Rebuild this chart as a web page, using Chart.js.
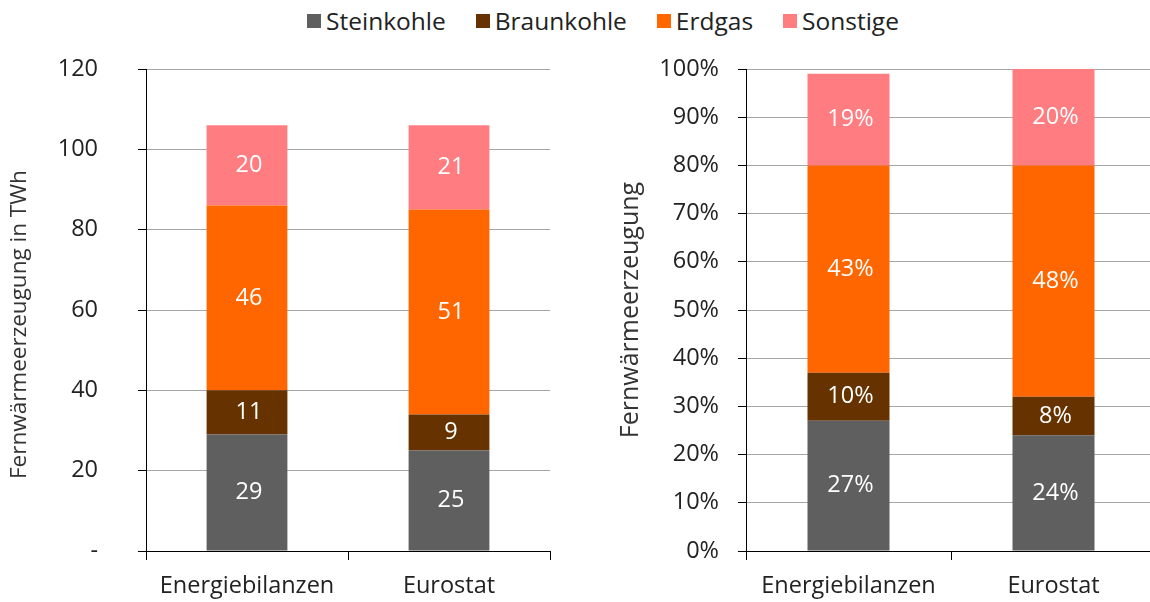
<!DOCTYPE html>
<html>
<head>
<meta charset="utf-8">
<script src="https://cdn.jsdelivr.net/npm/chart.js@4/dist/chart.umd.min.js"></script>
<style>
  html, body { margin: 0; padding: 0; background: #fff; overflow: hidden; }
  body { width: 1150px; height: 602px; position: relative; font-family: "Open Sans", sans-serif; }
  .panel { position: absolute; top: 0; }
  #legend { position: absolute; top: 4px; left: 0; width: 1206px; display: flex; justify-content: center; gap: 30px;
            font-size: 24.5px; color: #222; }
  #legend span.item { display: flex; align-items: center; }
  #legend span.box { width: 14px; height: 14px; margin-right: 5px; display: inline-block; }
</style>
</head>
<body>
<div id="legend"></div>
<div class="panel" style="left:0"><canvas id="twh" width="575" height="602"></canvas></div>
<div class="panel" style="left:600px"><canvas id="pct" width="575" height="602"></canvas></div>
<script>
const categories = ['Energiebilanzen', 'Eurostat'];
const seriesNames = ['Steinkohle', 'Braunkohle', 'Erdgas', 'Sonstige'];
const seriesColors = ['#5f5f5f', '#663300', '#ff6600', '#ff7c80'];

// absolute values, TWh
const twhSteinkohle = [29, 25];
const twhBraunkohle = [11, 9];
const twhErdgas = [46, 51];
const twhSonstige = [20, 21];

// shares, %
const pctSteinkohle = [27, 24];
const pctBraunkohle = [10, 8];
const pctErdgas = [43, 48];
const pctSonstige = [19, 20];

const twhTicks = [0, 20, 40, 60, 80, 100, 120];
const pctTicks = [0, 10, 20, 30, 40, 50, 60, 70, 80, 90, 100];

const FONT = '"Open Sans", sans-serif';
const TEXT_SIZE = 23.5;

// legend
const legendEl = document.getElementById('legend');
seriesNames.forEach((name, i) => {
    const item = document.createElement('span');
    item.className = 'item';
    item.innerHTML = '<span class="box" style="background:' + seriesColors[i] + '"></span>' + name;
    legendEl.appendChild(item);
});

// white numbers centred in each bar segment
const valueLabels = {
    id: 'valueLabels',
    afterDatasetsDraw(chart, args, opts) {
        const ctx = chart.ctx;
        ctx.save();
        ctx.fillStyle = '#fff';
        ctx.font = TEXT_SIZE + 'px ' + FONT;
        ctx.textAlign = 'center';
        ctx.textBaseline = 'middle';
        chart.data.datasets.forEach((ds, i) => {
            chart.getDatasetMeta(i).data.forEach((bar, j) => {
                const p = bar.getProps(['x', 'y', 'base'], true);
                ctx.fillText(opts.format(ds.data[j]), p.x + 2, (p.y + p.base) / 2);
            });
        });
        ctx.restore();
    }
};

function makeChart(canvasId, seriesData, cfg) {
    const datasets = seriesData.map((data, i) => ({
        label: seriesNames[i],
        data: data,
        backgroundColor: seriesColors[i],
        borderWidth: 0,
        barPercentage: 0.4,
        categoryPercentage: 1
    }));
    const ctx = document.getElementById(canvasId).getContext('2d');
    return new Chart(ctx, {
        type: 'bar',
        data: { labels: categories, datasets },
        plugins: [valueLabels],
        options: {
            responsive: false,
            animation: false,
            layout: { padding: { top: 69, right: cfg.padRight, left: 0, bottom: 0 } },
            plugins: {
                legend: { display: false },
                tooltip: { enabled: false },
                valueLabels: { format: cfg.format }
            },
            scales: {
                x: {
                    stacked: true,
                    border: { color: '#000', width: 1 },
                    grid: { display: true, drawOnChartArea: false, offset: true, tickLength: 9, tickColor: '#000' },
                    ticks: { color: '#222', font: { family: FONT, size: TEXT_SIZE }, padding: 12 },
                    afterFit: s => { s.height = 51; }
                },
                y: {
                    stacked: true,
                    min: cfg.min,
                    max: cfg.max,
                    border: { color: '#000', width: 1 },
                    grid: { color: '#a6a6a6', tickLength: 8, tickColor: '#000' },
                    afterBuildTicks: s => { s.ticks = cfg.ticks.map(v => ({ value: v })); },
                    ticks: { color: '#222', font: { family: FONT, size: TEXT_SIZE }, padding: cfg.tickPad,
                             callback: cfg.tickLabel },
                    title: { display: true, text: cfg.title, color: '#333',
                             font: { family: FONT, size: cfg.titleSize }, padding: { top: cfg.titlePad, bottom: 0 } },
                    afterFit: s => {
                        s.width = cfg.axisLeft;
                        s.paddingTop = 0;
                        s.paddingBottom = 0;
                    }
                }
            }
        }
    });
}

makeChart('twh', [twhSteinkohle, twhBraunkohle, twhErdgas, twhSonstige], {
    min: 0, max: 120, ticks: twhTicks,
    tickLabel: v => v === 0 ? '-' : v,
    title: 'Fernwärmeerzeugung in TWh     ',
    titleSize: 22.5,
    axisLeft: 146, titlePad: 6, tickPad: 40, padRight: 25,
    format: v => String(v)
});

makeChart('pct', [pctSteinkohle, pctBraunkohle, pctErdgas, pctSonstige], {
    min: 0, max: 100, ticks: pctTicks,
    tickLabel: v => v + '%',
    title: 'Fernwärmeerzeugung',
    titleSize: 25,
    axisLeft: 146, titlePad: 16, tickPad: 19, padRight: 19,
    format: v => v + '%'
});
</script>
</body>
</html>
